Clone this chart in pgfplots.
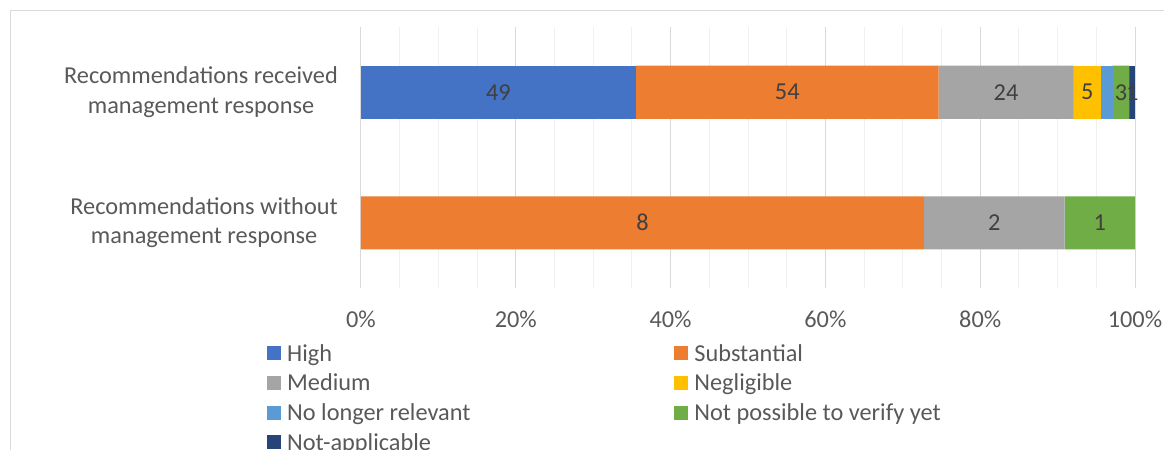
\documentclass[border=0pt]{standalone}
\usepackage{pgfplots}
\usepackage{pgfplotstable}
\pgfplotsset{compat=1.18}
\usepackage{fontspec}
\setmainfont{Carlito}
\definecolor{cHigh}{HTML}{4472C4}
\definecolor{cSub}{HTML}{ED7D31}
\definecolor{cMed}{HTML}{A5A5A5}
\definecolor{cNeg}{HTML}{FFC000}
\definecolor{cNLR}{HTML}{5B9BD5}
\definecolor{cNPV}{HTML}{70AD47}
\definecolor{cNA}{HTML}{264478}
\definecolor{cGridMaj}{HTML}{D9D9D9}
\definecolor{cGridMin}{HTML}{F0F0F0}
\definecolor{cTick}{HTML}{595959}
\definecolor{cLabel}{HTML}{404040}
\definecolor{cFrame}{HTML}{D9D9D9}
\newcommand\fs{\fontsize{24.4}{29.5}\selectfont}
% y=1: received management response (total 138); y=0: without (total 11)
\pgfplotstableread{
y cnt tot lbl
1 49 138 49
0 0 11 {}
}\tHigh
\pgfplotstableread{
y cnt tot lbl
1 54 138 54
0 8 11 8
}\tSub
\pgfplotstableread{
y cnt tot lbl
1 24 138 24
0 2 11 2
}\tMed
\pgfplotstableread{
y cnt tot lbl
1 5 138 5
0 0 11 {}
}\tNeg
\pgfplotstableread{
y cnt tot lbl
1 2 138 {}
0 0 11 {}
}\tNLR
\pgfplotstableread{
y cnt tot lbl
1 3 138 3
0 1 11 1
}\tNPV
\pgfplotstableread{
y cnt tot lbl
1 1 138 1
0 0 11 {}
}\tNA
\pgfplotsset{
  seg/.style={fill=#1, draw=none,
    point meta=explicit symbolic,
    nodes near coords,
    every node near coord/.append style={font=\fs, text=cLabel, anchor=center, inner sep=0pt},
  },
}
\begin{document}
\begin{tikzpicture}
\begin{axis}[
  name=ax, at={(0,0)}, anchor=south west,
  scale only axis, width=774bp, height=261bp,
  xbar stacked, bar width=53bp,
  xmin=0, xmax=100, ymin=-0.5, ymax=1.5,
  xtick={0,20,40,60,80,100},
  xticklabels={0\%,20\%,40\%,60\%,80\%,100\%},
  minor x tick num=3,
  ytick={0,1},
  yticklabels={{Recommendations without\\management response},{Recommendations received\\management response}},
  xmajorgrids, xminorgrids,
  major grid style={draw=cGridMaj, line width=1bp},
  minor grid style={draw=cGridMin, line width=1bp},
  axis line style={draw=none},
  major tick length=0pt, minor tick length=0pt,
  tick label style={font=\fs, text=cTick},
  yticklabel style={align=center, inner sep=0pt, xshift=-23bp},
  xticklabel style={inner sep=0pt, yshift=-23bp},
  legend columns=2,
  legend cell align=left,
  legend image code/.code={\path[#1] (0bp,-7bp) rectangle (14bp,7bp);},
  legend style={at={(0,0)}, anchor=north west, xshift=-94bp, yshift=-56bp,
    draw=none, fill=none, inner sep=0pt, row sep=11.3bp,
    font=\fs, text=cTick,
    nodes={inner sep=0pt},
    /tikz/column 1/.style={column sep=6bp},
    /tikz/column 2/.style={column sep=204bp},
    /tikz/column 3/.style={column sep=6bp}},
]
\addplot[seg=cHigh] table[y=y, x expr=\thisrow{cnt}/\thisrow{tot}*100, meta=lbl] {\tHigh};
\addplot[seg=cSub] table[y=y, x expr=\thisrow{cnt}/\thisrow{tot}*100, meta=lbl] {\tSub};
\addplot[seg=cMed] table[y=y, x expr=\thisrow{cnt}/\thisrow{tot}*100, meta=lbl] {\tMed};
\addplot[seg=cNeg] table[y=y, x expr=\thisrow{cnt}/\thisrow{tot}*100, meta=lbl] {\tNeg};
\addplot[seg=cNLR] table[y=y, x expr=\thisrow{cnt}/\thisrow{tot}*100, meta=lbl] {\tNLR};
\addplot[seg=cNPV] table[y=y, x expr=\thisrow{cnt}/\thisrow{tot}*100, meta=lbl] {\tNPV};
\addplot[seg=cNA] table[y=y, x expr=\thisrow{cnt}/\thisrow{tot}*100, meta=lbl] {\tNA};
\legend{High,Substantial,Medium,Negligible,No longer relevant,Not possible to verify yet,Not-applicable}
\end{axis}
\draw[cFrame, line width=1bp] (-350bp,-162bp) -- (-350bp,277.3bp) -- (803bp,277.3bp);
\pgfresetboundingbox
\path[use as bounding box] (-361bp,-162bp) rectangle (803bp,288bp);
\end{tikzpicture}
\end{document}
